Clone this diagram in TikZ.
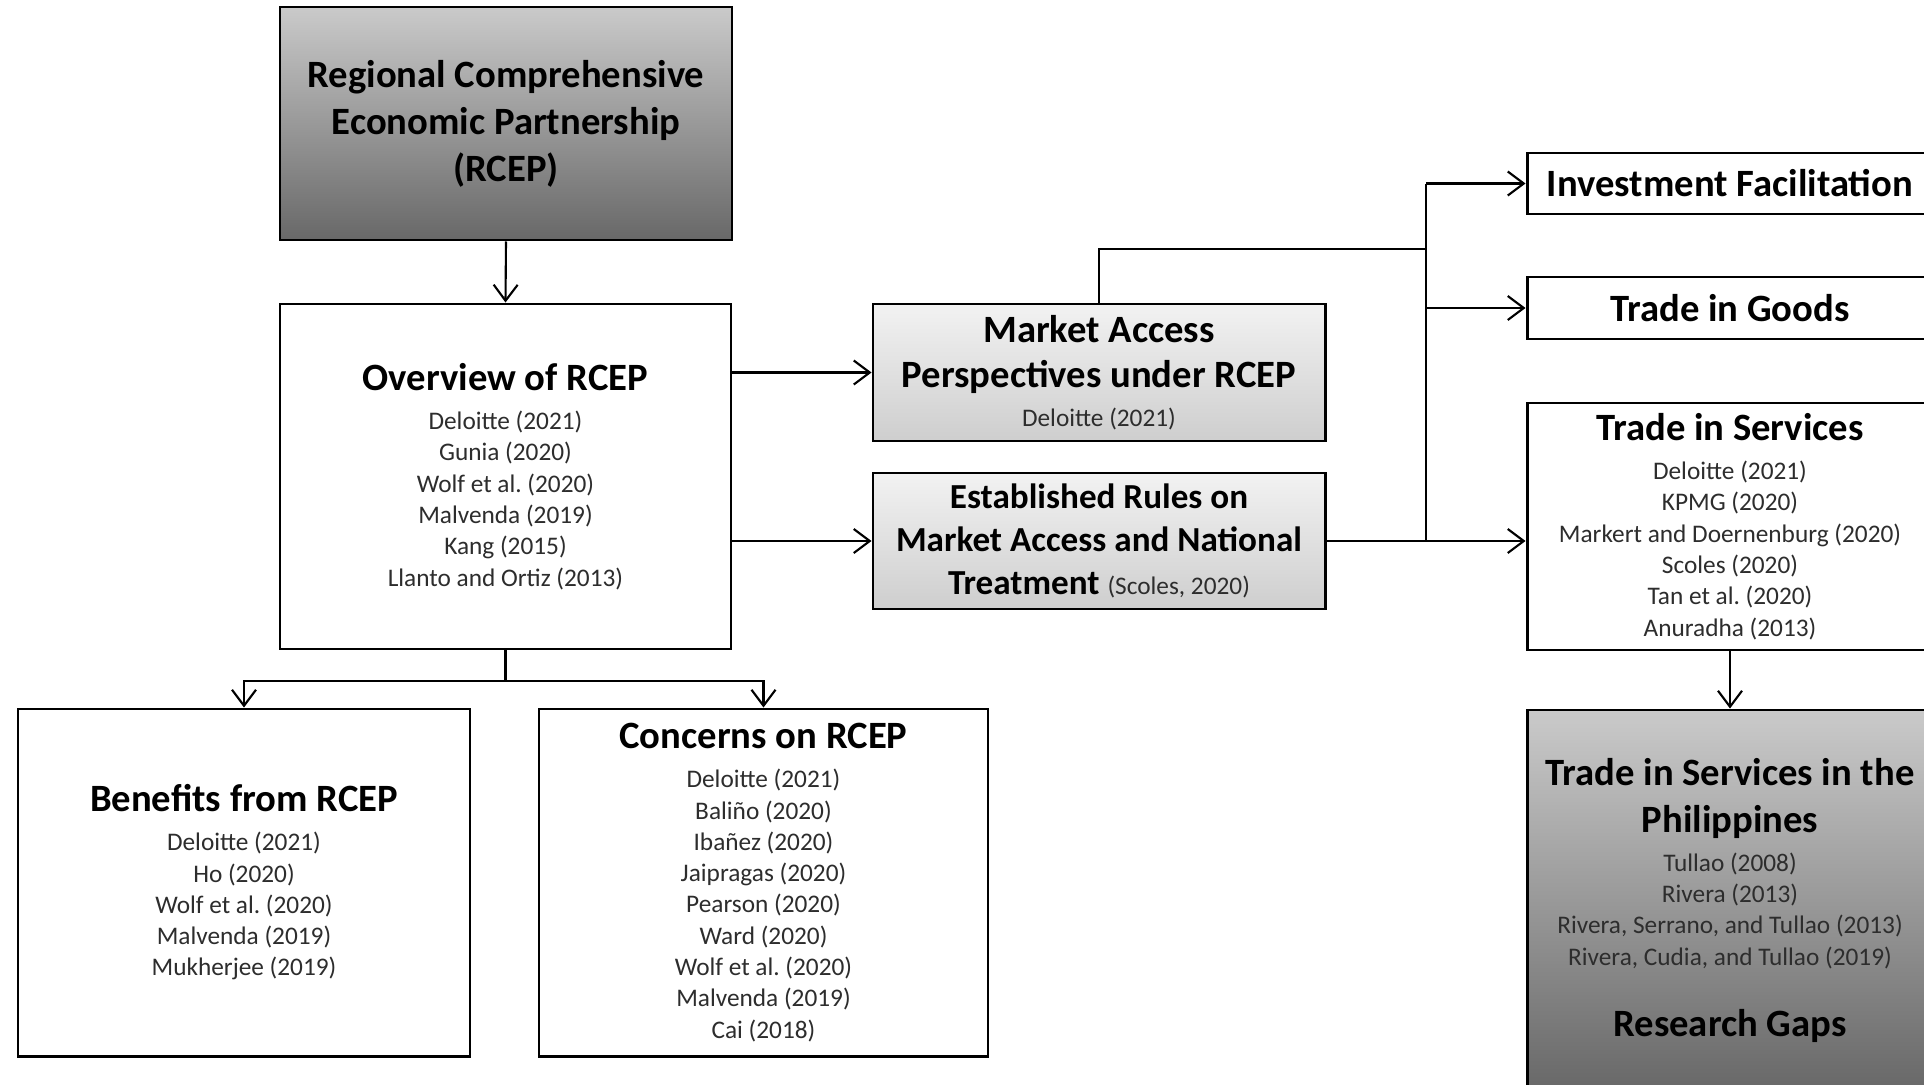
\documentclass[tikz,border=0pt]{standalone}
\usepackage{fontspec}
\setmainfont{Carlito}
\usetikzlibrary{arrows.meta}
\definecolor{citgray}{RGB}{45,45,45}
\definecolor{darkT}{RGB}{202,202,202}
\definecolor{darkB}{RGB}{104,104,104}
\definecolor{lightT}{RGB}{242,242,242}
\definecolor{lightB}{RGB}{206,206,206}
\newcommand{\ttl}{\fontsize{11}{13.4}\selectfont\bfseries\color{black}}
\newcommand{\ttls}{\fontsize{10}{12.2}\selectfont\bfseries\color{black}}
\newcommand{\cit}{\fontsize{7.2}{8.9}\selectfont\mdseries\color{citgray}\lineskiplimit=-20pt\relax}
\tikzset{
  box/.style={draw, line width=0.85pt, fill=white, align=center, font=\cit, inner sep=2pt},
  darkbox/.style={box, top color=darkT, bottom color=darkB},
  lightbox/.style={box, top color=lightT, bottom color=lightB},
  lnk/.style={line width=0.6pt},
  arr/.style={-{Straight Barb[length=1.6mm, width=2.4mm]}, line width=0.6pt},
}

\begin{document}
\begin{tikzpicture}
  \useasboundingbox (0,0) rectangle (19.24,10.84);
  \node[darkbox, font=\ttl, minimum width=4.52cm, minimum height=2.33cm] (rcep) at (5.06,9.605)
    {Regional Comprehensive\\Economic Partnership\\(RCEP)};
  \node[box, minimum width=4.51cm, minimum height=3.45cm] (ovw) at (5.055,6.075)
    {\ttl Overview of RCEP\\[2.2pt]Deloitte (2021)\\Gunia (2020)\\Wolf et al.\ (2020)\\Malvenda (2019)\\Kang (2015)\\Llanto and Ortiz (2013)};
  \node[lightbox, minimum width=4.52cm, minimum height=1.37cm] (mkt) at (10.99,7.115)
    {\ttl Market Access\\[3.9pt]\ttl Perspectives under RCEP\\[2.2pt]Deloitte (2021)};
  \node[lightbox, minimum width=4.52cm, minimum height=1.36cm] (est) at (10.99,5.43)
    {\ttls Established Rules on\\[3.3pt]\ttls Market Access and National\\[3.3pt]\ttls Treatment {\cit (Scoles, 2020)}};
  \node[box, font=\ttl, minimum width=4.06cm, minimum height=0.61cm] (inv) at (17.30,9.005) {Investment Facilitation};
  \node[box, font=\ttl, minimum width=4.06cm, minimum height=0.62cm] (gds) at (17.30,7.76) {Trade in Goods};
  \node[box, minimum width=4.06cm, minimum height=2.47cm] (svc) at (17.30,5.575)
    {\ttl Trade in Services\\[2.2pt]Deloitte (2021)\\KPMG (2020)\\Markert and Doernenburg (2020)\\Scoles (2020)\\Tan et al.\ (2020)\\Anuradha (2013)};
  \node[darkbox, minimum width=4.06cm, minimum height=3.8cm] (phl) at (17.30,1.84)
    {\ttl Trade in Services in the\\[4.5pt]\ttl Philippines\\[2.2pt]Tullao (2008)\\Rivera (2013)\\Rivera, Serrano, and Tullao (2013)\\Rivera, Cudia, and Tullao (2019)\\[11.3pt]\ttl Research Gaps};
  \node[box, minimum width=4.52cm, minimum height=3.47cm] (ben) at (2.44,2.015)
    {\ttl Benefits from RCEP\\[2.2pt]Deloitte (2021)\\Ho (2020)\\Wolf et al.\ (2020)\\Malvenda (2019)\\Mukherjee (2019)};
  \node[box, minimum width=4.49cm, minimum height=3.47cm] (con) at (7.635,2.015)
    {\ttl Concerns on RCEP\\[2.2pt]Deloitte (2021)\\Baliño (2020)\\Ibañez (2020)\\Jaipragas (2020)\\Pearson (2020)\\Ward (2020)\\Wolf et al.\ (2020)\\Malvenda (2019)\\Cai (2018)};
  \coordinate (jn) at (14.26,8.35);
  \coordinate (sp) at (5.055,4.03);
  \draw[arr] (rcep.south) -- (ovw.north);
  \draw[arr] (ovw.east |- mkt) -- (mkt.west);
  \draw[arr] (ovw.east |- est) -- (est.west);
  \draw[lnk] (mkt.north) |- (jn);
  \draw[lnk] (jn |- inv) -- (jn |- est);
  \draw[arr] (jn |- inv) -- (inv.west);
  \draw[arr] (jn |- gds) -- (gds.west);
  \draw[arr] (est.east) -- (est.east -| svc.west);
  \draw[arr] (svc.south) -- (phl.north);
  \draw[lnk] (ovw.south) -- (sp);
  \draw[arr] (sp) -| (ben.north);
  \draw[arr] (sp) -| (con.north);
\end{tikzpicture}
\end{document}
